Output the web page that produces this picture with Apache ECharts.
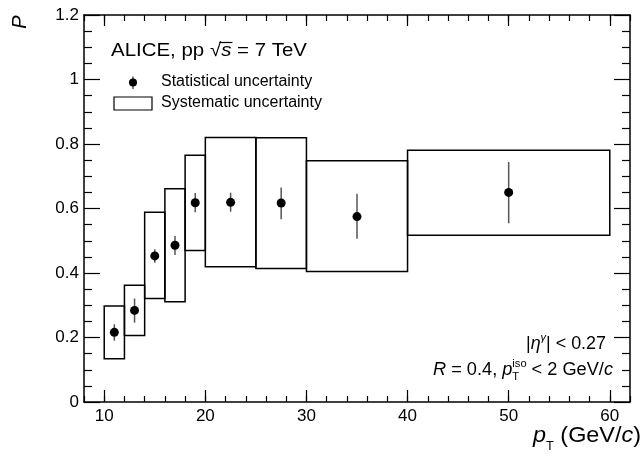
<!DOCTYPE html>
<html><head><meta charset="utf-8">
<script src="https://cdn.jsdelivr.net/npm/echarts@6/dist/echarts.min.js"></script>
<style>html,body{margin:0;padding:0;background:#fff}#c{width:644px;height:455px}</style>
</head><body><div id="c"></div>
<script>
// ---- data ----
const binLo   = [10, 12, 14, 16, 18, 20, 25, 30, 40];
const binHi   = [12, 14, 16, 18, 20, 25, 30, 40, 60];
const xCenter = [11, 13, 15, 17, 19, 22.5, 27.5, 35, 50];
const value   = [0.216, 0.284, 0.453, 0.486, 0.618, 0.619, 0.617, 0.575, 0.650];
const statLow = [0.190, 0.246, 0.432, 0.456, 0.588, 0.590, 0.567, 0.506, 0.554];
const statHigh= [0.241, 0.321, 0.474, 0.515, 0.648, 0.649, 0.665, 0.646, 0.744];
const sysLow  = [0.134, 0.206, 0.321, 0.311, 0.470, 0.419, 0.414, 0.405, 0.517];
const sysHigh = [0.298, 0.362, 0.588, 0.661, 0.765, 0.820, 0.819, 0.748, 0.781];
const xMajorTicks = [10, 20, 30, 40, 50, 60];

const FONT = '"Liberation Sans", Arial, Helvetica, sans-serif';
const mctx = document.createElement('canvas').getContext('2d');
function tw(t, s, it){ mctx.font = (it ? 'italic ' : '') + s + 'px ' + FONT; return mctx.measureText(t).width; }

// simple TeX-like layout: segments {t, s, i, dy, stack}
function latex(segs, x, yBase, align, targetW, extra){
  let cur = 0, pend = 0; const pos = [];
  segs.forEach(g => {
    const w = tw(g.t, g.s, g.i);
    pos.push({g, x: cur, w});
    if (g.stack) { pend = Math.max(pend, w); }
    else { cur += Math.max(w, pend); pend = 0; }
  });
  const W = cur;
  const sx = targetW ? targetW / W : 1;
  const off = align === 'right' ? -W : 0;
  const children = pos.map(p => ({
    type: 'text', x: p.x + off, y: (p.g.dy || 0) - 0.35 * p.g.s,
    style: { text: p.g.t, fontSize: p.g.s, fontFamily: FONT, fontStyle: p.g.i ? 'italic' : 'normal',
             fill: '#000', align: 'left', verticalAlign: 'middle' }
  }));
  if (extra) extra(pos, off).forEach(c => children.push(c));
  return { type: 'group', x: x, y: yBase, scaleX: sx, children };
}

const axisLineStyle = { color: '#000', width: 1.5 };
const tickStyle = { color: '#000', width: 1.2 };

function xAxisDef(pos, major, labels){
  const a = { type: 'value', position: pos, min: 8, max: 62,
    axisLine: { show: !major, onZero: false, lineStyle: axisLineStyle },
    splitLine: { show: false }, axisPointer: { show: false } };
  if (major) {
    a.axisTick = { show: true, inside: true, length: pos === 'bottom' ? 12 : 11, customValues: xMajorTicks, lineStyle: tickStyle };
    a.axisLabel = { show: false };
  } else {
    a.interval = 2;
    a.axisTick = { show: true, inside: true, length: 6, lineStyle: tickStyle };
    a.axisLabel = labels ? { show: true, color: '#000', fontSize: 17, fontFamily: FONT, margin: 6,
      formatter: v => { const r = Math.round(v); return (r % 10 === 0 && r >= 10 && r <= 60) ? String(r) : ''; } }
      : { show: false };
  }
  return a;
}
function yAxisDef(pos, labels){
  return { type: 'value', position: pos, min: 0, max: 1.2, interval: 0.2,
    axisLine: { show: true, onZero: false, lineStyle: axisLineStyle },
    axisTick: { show: true, inside: true, length: 16, lineStyle: tickStyle },
    minorTick: { show: true, splitNumber: 4, length: 8, lineStyle: tickStyle },
    axisLabel: labels ? { show: true, color: '#000', fontSize: 17, fontFamily: FONT, margin: 5 } : { show: false },
    splitLine: { show: false }, minorSplitLine: { show: false } };
}

const boxData = binLo.map((l, i) => [l, binHi[i], sysLow[i], sysHigh[i]]);
const errData = xCenter.map((x, i) => [x, statLow[i], statHigh[i]]);
const ptData  = xCenter.map((x, i) => [x, value[i]]);

const graphics = [
  // title
  latex([{t:'ALICE, pp ', s:19}, {t:'\u221A', s:19}, {t:'s', s:19, i:true}, {t:' = 7 TeV', s:19}],
        111, 57, 'left', 196,
        (pos, off) => [{ type:'line', shape:{ x1: pos[1].x + off + pos[1].w*0.85, y1: -14.5, x2: pos[2].x + off + pos[2].w + 1, y2: -14.5 },
                         style:{ stroke:'#000', lineWidth:1.2 } }]),
  // legend
  { type:'line', shape:{x1:133, y1:76.5, x2:133, y2:89}, style:{stroke:'#555', lineWidth:1.5} },
  { type:'circle', shape:{cx:133, cy:82.5, r:4}, style:{fill:'#000'} },
  { type:'text', x:161, y:82, style:{text:'Statistical uncertainty', fontSize:16, fontFamily:FONT, fill:'#000', align:'left', verticalAlign:'middle'} },
  { type:'rect', shape:{x:114, y:97, width:38, height:13}, style:{fill:'#fff', stroke:'#000', lineWidth:1.2} },
  { type:'text', x:161, y:103, style:{text:'Systematic uncertainty', fontSize:16, fontFamily:FONT, fill:'#000', align:'left', verticalAlign:'middle'} },
  // annotations
  latex([{t:'|', s:18}, {t:'\u03B7', s:18, i:true}, {t:'\u03B3', s:11, i:true, dy:-8}, {t:'| < 0.27', s:18}],
        606, 350, 'right', 80),
  latex([{t:'R', s:18, i:true}, {t:' = 0.4, ', s:18}, {t:'p', s:18, i:true},
         {t:'iso', s:11, dy:-8, stack:true}, {t:'T', s:11, dy:5}, {t:' < 2 GeV/', s:18}, {t:'c', s:18, i:true}],
        613, 376, 'right', 180),
  // axis titles
  latex([{t:'p', s:22, i:true}, {t:'T', s:12, dy:7}, {t:' (GeV/', s:22}, {t:'c', s:22, i:true}, {t:')', s:22}],
        641, 444, 'right', 108),
  { type:'text', x:20, y:22, rotation: Math.PI/2,
    style:{text:'P', fontSize:20, fontStyle:'italic', fontFamily:FONT, fill:'#000', align:'center', verticalAlign:'middle'} }
];

const chart = echarts.init(document.getElementById('c'), null, { renderer: 'canvas' });
chart.setOption({
  animation: false,
  backgroundColor: '#fff',
  grid: { left: 84, right: 14, top: 15, bottom: 53, containLabel: false, outerBoundsMode: 'none' },
  xAxis: [ xAxisDef('bottom', false, true), xAxisDef('bottom', true), xAxisDef('top', false, false), xAxisDef('top', true) ],
  yAxis: [ yAxisDef('left', true), yAxisDef('right', false) ],
  series: [
    { type: 'custom', xAxisIndex: 0, yAxisIndex: 0, data: boxData, encode: { x: [0, 1], y: [2, 3] },
      renderItem: (params, api) => {
        const a = api.coord([api.value(0), api.value(2)]);
        const b = api.coord([api.value(1), api.value(3)]);
        return { type: 'rect', shape: { x: a[0], y: b[1], width: b[0] - a[0], height: a[1] - b[1] },
                 style: { fill: null, stroke: '#000', lineWidth: 1.5 } };
      } },
    { type: 'custom', xAxisIndex: 0, yAxisIndex: 0, data: errData, encode: { x: 0, y: [1, 2] },
      renderItem: (params, api) => {
        const a = api.coord([api.value(0), api.value(1)]);
        const b = api.coord([api.value(0), api.value(2)]);
        return { type: 'line', shape: { x1: a[0], y1: a[1], x2: b[0], y2: b[1] },
                 style: { stroke: '#555', lineWidth: 1.5 } };
      } },
    { type: 'scatter', xAxisIndex: 0, yAxisIndex: 0, data: ptData, symbol: 'circle', symbolSize: 9,
      itemStyle: { color: '#000', opacity: 1 }, z: 5 }
  ],
  graphic: graphics
});
</script></body></html>
